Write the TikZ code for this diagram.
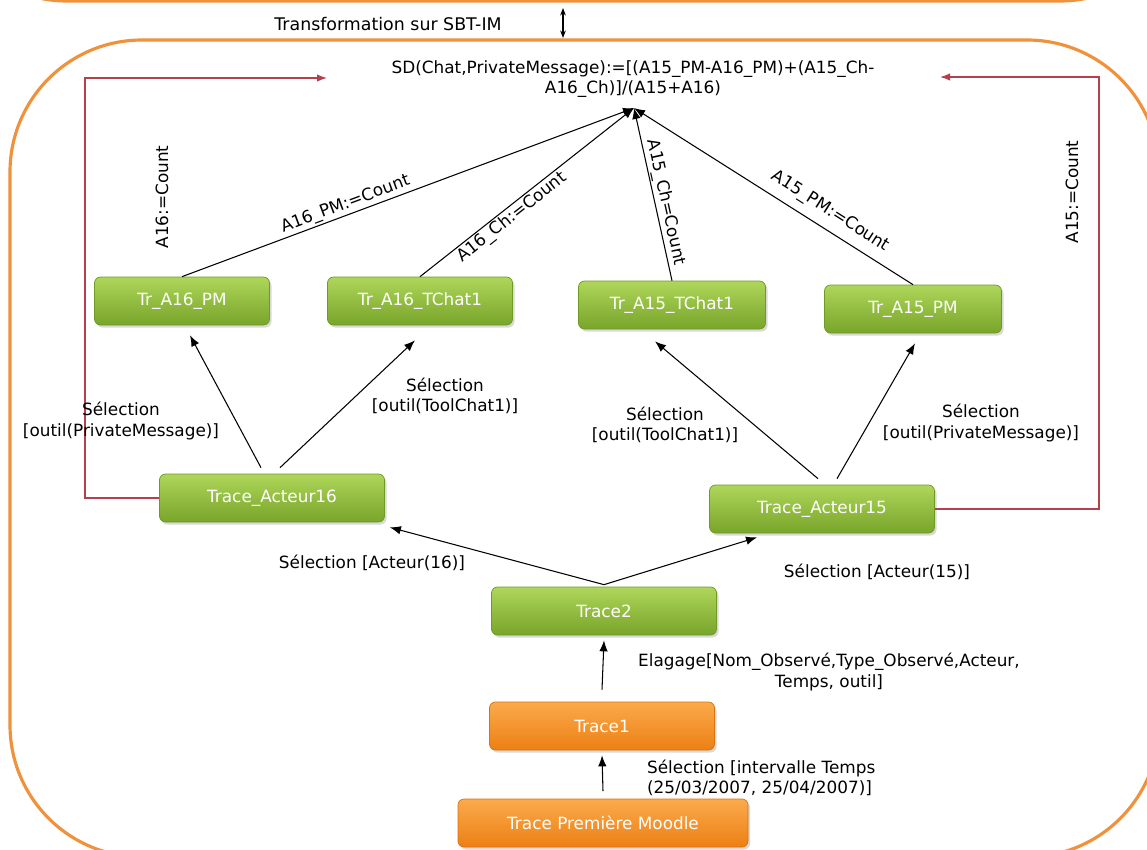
\documentclass[tikz,border=0pt]{standalone}
\usepackage{fontspec}
\setmainfont{DejaVu Sans}
\usetikzlibrary{arrows.meta,shadows,positioning}
\definecolor{cadre}{HTML}{F0913B}
\definecolor{greentop}{HTML}{AED65A}
\definecolor{greenbot}{HTML}{78A52A}
\definecolor{greenedge}{HTML}{6F9A24}
\definecolor{orangetop}{HTML}{FBAA4C}
\definecolor{orangebot}{HTML}{EC8014}
\definecolor{orangeedge}{HTML}{D9720F}
\definecolor{rouge}{HTML}{B3404A}
\newcommand\LblFont{\fontsize{9.6}{11.4}\selectfont}
\tikzset{
  etape/.style={
    shape = rectangle,
    rounded corners = 0.12cm,
    draw = greenedge,
    top color = greentop,
    bottom color = greenbot,
    text = white,
    minimum height = 0.96cm,
    font = \LblFont,
    drop shadow = {opacity=0.3, shadow xshift=0.04cm, shadow yshift=-0.05cm}
  },
  trace/.style={
    etape,
    draw = orangeedge,
    top color = orangetop,
    bottom color = orangebot
  },
  lbl/.style={
    font = \LblFont,
    align = center,
    inner sep = 1pt
  },
  fleche/.style={
    -{Latex[length=0.22cm,width=0.17cm]},
    line width = 0.6pt
  },
  retour/.style={
    draw = rouge,
    -{Latex[length=0.2cm,width=0.15cm]},
    line width = 0.8pt
  },
  bord/.style={
    draw = cadre,
    line width = 1.8pt,
    rounded corners = 2.64cm
  }
}

\begin{document}
\begin{tikzpicture}
    \useasboundingbox (0,0) rectangle (22.94,-17);
    % cadres orange
    \begin{scope}
      \clip (0,0) rectangle (22.94,-17);
      \draw[bord] (-1.3,-0.02) rectangle (23.84,6);
      \draw[bord] (0.2,-0.8) rectangle (23.18,-17.14);
    \end{scope}

    \node[lbl, font=\fontsize{9.9}{12}\selectfont] (titre) at (7.76,-0.48) {Transformation sur SBT-IM};
    \coordinate (dbhaut) at (11.26,-0.16);
    \coordinate (dbbas) at (11.26,-0.76);
    \draw[{Stealth[length=0.15cm]}-{Stealth[length=0.15cm]}, line width=0.6pt] (dbhaut) -- (dbbas);

    \node[lbl] (sd) at (12.66,-1.58) {SD(Chat,PrivateMessage):=[(A15\_PM-A16\_PM)+(A15\_Ch-\\A16\_Ch)]/(A15+A16)};
    \coordinate (tip) at (12.68,-2.16);

    % noeuds
    \node[etape, minimum width=3.5cm]  (trA16pm)  at (3.64,-6.02)  {Tr\_A16\_PM};
    \node[etape, minimum width=3.7cm]  (trA16ch)  at (8.40,-6.02)  {Tr\_A16\_TChat1};
    \node[etape, minimum width=3.74cm] (trA15ch)  at (13.44,-6.10) {Tr\_A15\_TChat1};
    \node[etape, minimum width=3.54cm] (trA15pm)  at (18.26,-6.18) {Tr\_A15\_PM};
    \node[etape, minimum width=4.5cm]  (acteur16) at (5.44,-9.96)  {Trace\_Acteur16};
    \node[etape, minimum width=4.5cm]  (acteur15) at (16.44,-10.18) {Trace\_Acteur15};
    \node[etape, minimum width=4.5cm]  (trace2)   at (12.08,-12.22) {Trace2};
    \node[trace, minimum width=4.5cm]  (trace1)   at (12.04,-14.52) {Trace1};
    \node[trace, minimum width=5.8cm]  (moodle)   at (12.06,-16.46) {Trace Première Moodle};

    % vers la formule
    \draw[fleche] (trA16pm.north) -- node[lbl, sloped, above, pos=0.37] {A16\_PM:=Count} (tip);
    \draw[fleche] (trA16ch.north) -- node[lbl, sloped, below, pos=0.40] {A16\_Ch:=Count} (tip);
    \draw[fleche] (trA15ch.north) -- node[lbl, sloped, above, pos=0.44] {A15\_Ch=Count} (tip);
    \draw[fleche] (trA15pm.north) -- node[lbl, sloped, above=4pt, pos=0.33] {A15\_PM:=Count} (tip);
    \node[lbl, rotate=90] (cnt16) at (3.24,-3.94) {A16:=Count};
    \node[lbl, rotate=90] (cnt15) at (21.44,-3.84) {A15:=Count};

    % retours rouges
    \coordinate (retG) at (6.54,-1.56);
    \coordinate (retD) at (18.8,-1.54);
    \draw[retour] (acteur16.west) -- ++(-1.48,0) |- (retG);
    \draw[retour] (acteur15.east) -- ++(3.28,0) |- (retD);

    % selections
    \draw[fleche] ([xshift=-0.22cm,yshift=0.12cm]acteur16.north) -- ([xshift=0.16cm,yshift=-0.2cm]trA16pm.south);
    \draw[fleche] ([xshift=0.16cm,yshift=0.12cm]acteur16.north) -- ([xshift=-0.1cm,yshift=-0.3cm]trA16ch.south);
    \draw[fleche] ([xshift=-0.08cm,yshift=0.12cm]acteur15.north) -- ([xshift=-0.34cm,yshift=-0.24cm]trA15ch.south);
    \draw[fleche] ([xshift=0.3cm,yshift=0.12cm]acteur15.north) -- ([xshift=0.04cm,yshift=-0.2cm]trA15pm.south);
    \draw[fleche] ([yshift=0.04cm]trace2.north) -- ([xshift=0.1cm,yshift=-0.1cm]acteur16.south east);
    \draw[fleche] ([yshift=0.04cm]trace2.north) -- ([xshift=-1.3cm,yshift=-0.08cm]acteur15.south);
    \draw[fleche] ([yshift=0.24cm]trace1.north) -- ([yshift=-0.1cm]trace2.south);
    \draw[fleche] ([yshift=0.15cm]moodle.north) -- ([yshift=-0.1cm]trace1.south);

    \node[lbl] (selPMg) at (2.42,-8.42) {Sélection\\{}[outil(PrivateMessage)]};
    \node[lbl] (selCHg) at (8.9,-7.92) {Sélection\\{}[outil(ToolChat1)]};
    \node[lbl] (selCHd) at (13.3,-8.5) {Sélection\\{}[outil(ToolChat1)]};
    \node[lbl] (selPMd) at (19.62,-8.46) {Sélection\\{}[outil(PrivateMessage)]};
    \node[lbl] (selA16) at (7.44,-11.26) {Sélection [Acteur(16)]};
    \node[lbl] (selA15) at (17.54,-11.44) {Sélection [Acteur(15)]};
    \node[lbl] (elag) at (16.58,-13.44) {Elagage[Nom\_Observé,Type\_Observé,Acteur,\\Temps, outil]};
    \node[lbl, anchor=west, align=left] (interv) at (12.9,-15.56) {Sélection [intervalle Temps\\(25/03/2007, 25/04/2007)]};
\end{tikzpicture}
\end{document}
